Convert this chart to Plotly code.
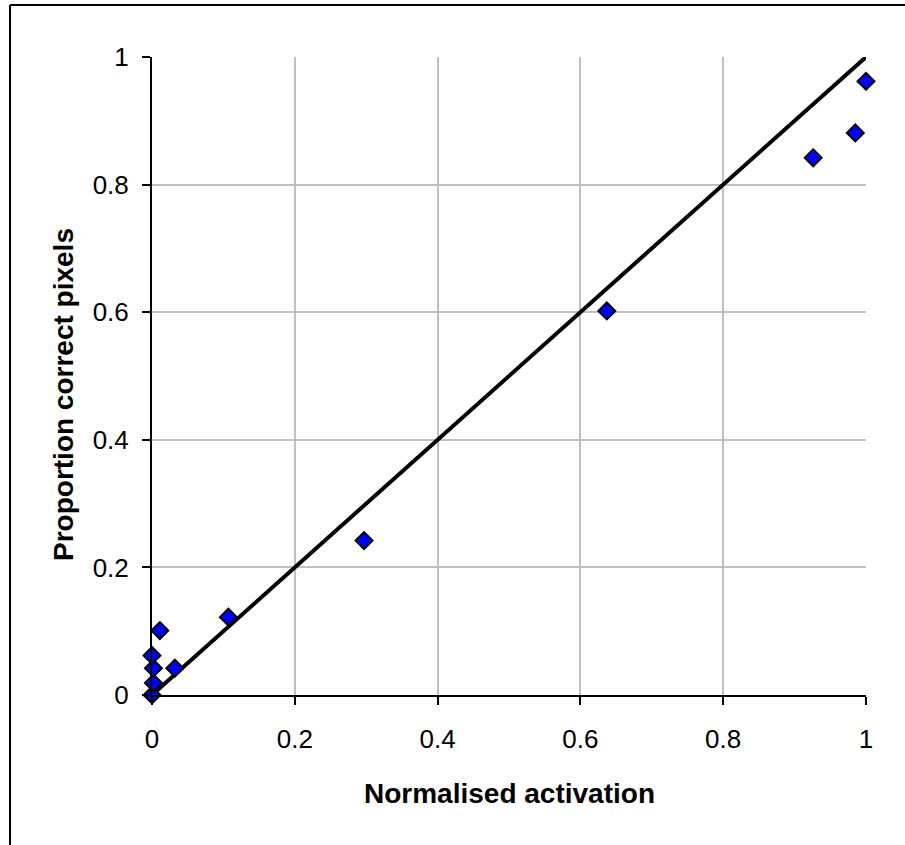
import plotly.graph_objects as go

# Data
activation = [0.0, 0.002, 0.002, 0.0, 0.011, 0.032, 0.107, 0.297, 0.637, 0.926, 0.985, 1.0]
proportion = [0.0, 0.019, 0.042, 0.062, 0.101, 0.042, 0.122, 0.242, 0.602, 0.842, 0.881, 0.962]
line_x = [0, 1]
line_y = [0, 1]
tick_vals = [0, 0.2, 0.4, 0.6, 0.8, 1]
tick_text = ["0", "0.2", "0.4", "0.6", "0.8", "1"]
x_title = "Normalised activation"
y_title = "Proportion correct pixels"

FONT = "Liberation Sans, Arial, sans-serif"

fig = go.Figure()
fig.add_trace(go.Scatter(x=line_x, y=line_y, mode="lines",
                         line=dict(color="black", width=4),
                         hoverinfo="skip", showlegend=False, cliponaxis=False))
fig.add_trace(go.Scatter(x=activation, y=proportion, mode="markers",
                         marker=dict(symbol="diamond", size=13, color="#0000ff",
                                     line=dict(color="black", width=2)),
                         showlegend=False, cliponaxis=False))

W, H = 905, 845
L, R, T, B = 152, 39, 57, 150
pw, ph = W - L - R, H - T - B

def px_to_paper_x(px):
    return (px - L) / pw

def px_to_paper_y(py):
    return (H - B - py) / ph

# outer frame (left and top edges visible)
fig.add_shape(type="line", xref="paper", yref="paper",
              x0=px_to_paper_x(10), x1=px_to_paper_x(10),
              y0=px_to_paper_y(900), y1=px_to_paper_y(5),
              line=dict(color="black", width=2))
fig.add_shape(type="line", xref="paper", yref="paper",
              x0=px_to_paper_x(10), x1=px_to_paper_x(960),
              y0=px_to_paper_y(5), y1=px_to_paper_y(5),
              line=dict(color="black", width=2))

axis_common = dict(
    range=[0, 1], tickvals=tick_vals, ticktext=tick_text,
    showgrid=True, gridcolor="#c0c0c0", gridwidth=1.5,
    showline=True, linecolor="black", linewidth=2,
    ticks="outside", ticklen=8, tickcolor="black", tickwidth=1.5,
    tickfont=dict(family=FONT, size=26, color="black"),
    zeroline=False, mirror=False,
)

fig.update_xaxes(**axis_common, ticklabelstandoff=12)
fig.update_yaxes(**axis_common, ticklabelstandoff=8)

# axis titles
fig.add_annotation(text="<b>%s</b>" % x_title, xref="paper", yref="paper",
                   x=0.5, y=px_to_paper_y(793), xanchor="center", yanchor="middle",
                   showarrow=False, font=dict(family=FONT, size=28, color="black"))
fig.add_annotation(text="<b>%s</b>" % y_title, xref="paper", yref="paper",
                   x=px_to_paper_x(63), y=px_to_paper_y(395), xanchor="center", yanchor="middle",
                   textangle=-90, showarrow=False,
                   font=dict(family=FONT, size=28, color="black"))

fig.update_layout(
    width=W, height=H,
    margin=dict(l=L, r=R, t=T, b=B, autoexpand=False),
    paper_bgcolor="white", plot_bgcolor="white",
    font=dict(family=FONT, color="black"),
)

fig.write_html("out.html")
